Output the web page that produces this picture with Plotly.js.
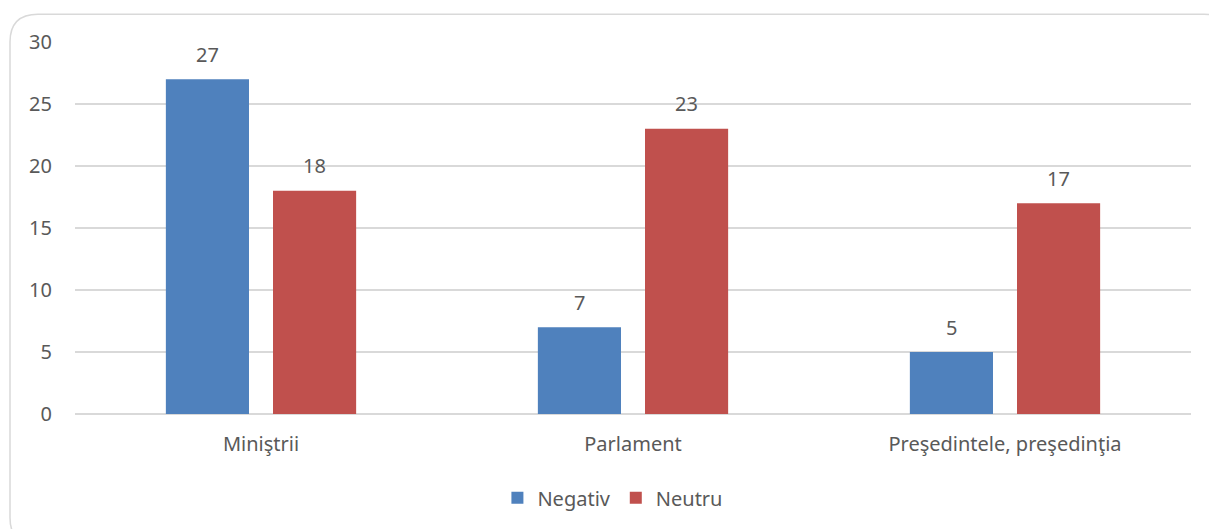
<!DOCTYPE html>
<html>
<head>
<meta charset="utf-8">
<script src="https://cdn.plot.ly/plotly-3.0.1.min.js"></script>
<style>html,body{margin:0;padding:0;background:#fff;}#chart{width:1209px;height:529px;}</style>
</head>
<body>
<div id="chart"></div>
<script>
const categories = ["Miniştrii", "Parlament", "Preşedintele, preşedinţia"];
const negativ = [27, 7, 5];
const neutru = [18, 23, 17];
const seriesNames = ["Negativ", "Neutru"];
const yTicks = [0, 5, 10, 15, 20, 25, 30];

const W = 1209, H = 529;
const M = {l: 75, r: 18, t: 42, b: 113};
const pw = W - M.l - M.r, ph = H - M.t - M.b;
const px = x => (x - M.l) / pw;
const py = y => (H - M.b - y) / ph;

// rounded outer border (partly beyond the right and bottom edges)
const bx0 = 10, by0 = 14, bx1 = 1232, by1 = 548, r = 28;
const path = `M ${px(bx0)},${py(by0 + r)} Q ${px(bx0)},${py(by0)} ${px(bx0 + r)},${py(by0)} ` +
  `L ${px(bx1 - r)},${py(by0)} Q ${px(bx1)},${py(by0)} ${px(bx1)},${py(by0 + r)} ` +
  `L ${px(bx1)},${py(by1 - r)} Q ${px(bx1)},${py(by1)} ${px(bx1 - r)},${py(by1)} ` +
  `L ${px(bx0 + r)},${py(by1)} Q ${px(bx0)},${py(by1)} ${px(bx0)},${py(by1 - r)} Z`;

const font = {family: "Noto Sans, Open Sans, sans-serif", size: 20, color: "#595959"};

const traces = [
  {type: "bar", name: seriesNames[0], x: categories, y: negativ, marker: {color: "#4f81bd"}},
  {type: "bar", name: seriesNames[1], x: categories, y: neutru, marker: {color: "#c0504d"}}
];

const annotations = [];
[negativ, neutru].forEach((vals, si) => {
  vals.forEach((v, ci) => {
    annotations.push({
      x: categories[ci], y: v, xref: "x", yref: "y", text: String(v), showarrow: false,
      xshift: (si === 0 ? -1 : 1) * 53.5, yshift: 25, font: font
    });
  });
});

const layout = {
  width: W, height: H,
  margin: M,
  paper_bgcolor: "#fff", plot_bgcolor: "#fff",
  font: font,
  barmode: "group", bargap: 0.424, bargroupgap: 0.224,
  showlegend: true,
  legend: {orientation: "h", x: 0.482, xanchor: "center", y: -0.225, yanchor: "middle", font: font, itemwidth: 30, traceorder: "normal"},
  xaxis: {type: "category", showgrid: false, showline: false, zeroline: false, ticks: "", tickfont: font, ticklabelstandoff: 16},
  yaxis: {range: [0, 30], tickvals: yTicks, ticktext: yTicks.map(String), showgrid: true, gridcolor: "#d9d9d9", gridwidth: 1.3,
          zeroline: true, zerolinecolor: "#d9d9d9", zerolinewidth: 1.3, showline: false, ticks: "", tickfont: font, ticklabelstandoff: 22},
  shapes: [{type: "path", xref: "paper", yref: "paper", path: path, line: {color: "#d9d9d9", width: 1.5}, fillcolor: "rgba(0,0,0,0)", layer: "below"}],
  annotations: annotations
};

Plotly.newPlot("chart", traces, layout, {staticPlot: true, displayModeBar: false});
</script>
</body>
</html>
